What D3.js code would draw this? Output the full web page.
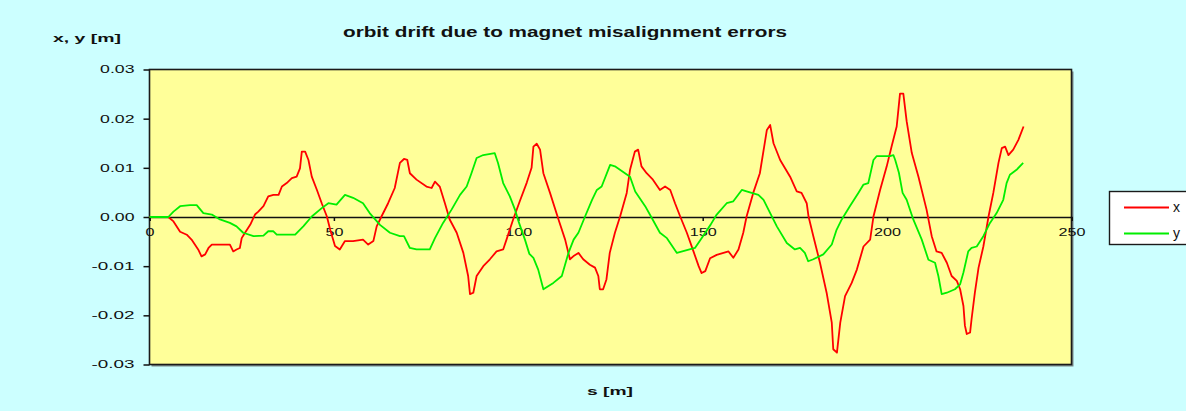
<!DOCTYPE html>
<html>
<head>
<meta charset="utf-8">
<script src="https://cdn.jsdelivr.net/npm/d3@7"></script>
<style>
  html, body { margin: 0; padding: 0; background: #ccffff; }
  svg { display: block; }
  text { font-family: "Liberation Sans", Arial, sans-serif; fill: #111; }
</style>
</head>
<body>
<svg id="chart" width="1186" height="411"></svg>
<script>
// Horizontal orbit offset x(s) [m]
const sX = [0,5.1,6.5,8.3,10.1,11.4,12.3,13.2,14.1,15.1,16,16.9,19.1,21.8,22.7,23.6,24.5,25,25.9,27.3,28.6,29.5,30.9,32.2,33.6,35,35.9,37.2,38.6,39.9,40.8,41.3,42.2,43.1,44,45.4,46.7,48.1,49,50.3,51.6,53,55.2,57.9,59.3,60.7,61.6,62.9,64.7,66.5,67.9,69,69.9,70.6,72.4,75.1,76.5,77.4,78.7,80.1,81.4,83.3,85.1,86.4,86.9,87.8,88.7,90.5,92.3,94.1,95.9,96.8,98.6,100.4,102.3,103.6,104.1,105,105.9,106.8,108.6,110.9,112.7,114,114.9,116.3,117.6,119.4,120.8,121.7,122.1,123,123.9,124.8,126.2,127.6,129.4,130.3,131.6,132.5,133.4,134.8,136.5,138.4,139.8,141.2,142.5,143.9,145.7,147.5,148.9,149.7,150.7,152,153.8,157,158.3,159.7,161,161.9,163.7,165.5,167.4,168.3,169.2,171,173.7,175.5,176.8,178.2,178.7,180,181.8,183.6,185,185.4,186.4,187.3,188.6,190.4,191.8,193.6,195.4,196.3,198.1,199.9,201.2,202.6,203.5,204.4,205.3,206.7,208.5,210.7,212.1,213.4,214.8,216.2,217.5,218.9,219.8,220.7,221.1,221.6,222.5,222.9,223.8,224.8,226.1,227.5,228.8,230.2,231.1,232,232.9,234.2,235.6,237];
const xOrbit = [0,0,-0.0009,-0.003,-0.0036,-0.0046,-0.0056,-0.0066,-0.008,-0.0076,-0.0063,-0.0056,-0.0056,-0.0056,-0.007,-0.0066,-0.0063,-0.0043,-0.0032,-0.0016,0.0005,0.0011,0.0022,0.0042,0.0045,0.0045,0.0062,0.0069,0.0079,0.0082,0.0099,0.0133,0.0133,0.0116,0.0082,0.0055,0.0028,0.0001,-0.0026,-0.0059,-0.0066,-0.0049,-0.0049,-0.0046,-0.0056,-0.0049,-0.0019,0.0001,0.0028,0.0059,0.011,0.0118,0.0116,0.0089,0.0076,0.0062,0.0059,0.0072,0.0062,0.0028,-0.0005,-0.0032,-0.0073,-0.012,-0.0157,-0.0154,-0.012,-0.01,-0.0086,-0.007,-0.0066,-0.0046,-0.0005,0.0032,0.007,0.01,0.0143,0.0149,0.0137,0.0089,0.0049,-0.0005,-0.0046,-0.0086,-0.008,-0.0073,-0.0086,-0.0097,-0.0103,-0.012,-0.0147,-0.0147,-0.0127,-0.0073,-0.0032,0.0001,0.0049,0.0096,0.0133,0.0137,0.0103,0.0089,0.0076,0.0055,0.0062,0.0055,0.0028,0.0001,-0.0032,-0.007,-0.01,-0.0114,-0.011,-0.0084,-0.0077,-0.007,-0.0083,-0.0066,-0.0032,0.0001,0.0049,0.0089,0.0177,0.0187,0.015,0.0116,0.0082,0.0052,0.0049,0.0028,0.0001,-0.0039,-0.0093,-0.0154,-0.0215,-0.0269,-0.0276,-0.0215,-0.0161,-0.0134,-0.0107,-0.006,-0.0046,0.0001,0.0055,0.0103,0.0143,0.0184,0.0251,0.0251,0.0195,0.013,0.0082,0.0015,-0.0039,-0.007,-0.0073,-0.0093,-0.012,-0.013,-0.0147,-0.0181,-0.0221,-0.0238,-0.0235,-0.0208,-0.0154,-0.0103,-0.006,0.0001,0.0049,0.011,0.014,0.0143,0.0126,0.0137,0.0157,0.0184];

// Vertical orbit offset y(s) [m]
const sY = [0,5.1,6.5,8.3,11,12.8,14.6,16.9,19.1,21.8,23.6,25.4,28.2,30.9,32.2,33.6,34.5,39.5,41.7,44,46.7,48.5,50.7,53,55.2,57.9,59.7,62.5,65.2,67.9,69,70.6,72.4,76,77.4,79.6,81.9,84.2,86,87.3,88.7,90.5,93.6,94.5,95.9,97.7,99.1,100.2,101.8,103,104.1,105.4,106.8,109.5,111.8,113.6,115,116.3,118.1,120,121.3,122.6,124.9,126.2,130.3,131.7,134.4,136.2,138.4,140.3,143,147.9,149.7,152.2,153.8,156.5,158.3,160.6,161.9,165.1,166.5,168.3,170.1,172.8,175,176.4,177.7,178.6,180,182.7,185,186.3,187.7,189.9,192.2,193.6,194.9,196.3,197.2,200.8,201.7,202.2,203.2,204.2,205.3,207.1,209.4,211.2,213,213.9,214.8,216.2,218.4,219.8,220.7,222,222.9,224.3,226.1,227.9,229.7,231.5,232.4,233.3,235.1,236.9];
const yOrbit = [0,0,0.0011,0.0022,0.0024,0.0024,0.0008,0.0005,-0.0005,-0.0012,-0.0019,-0.0032,-0.0039,-0.0038,-0.0029,-0.0029,-0.0036,-0.0036,-0.0019,0.0001,0.0018,0.0028,0.0025,0.0045,0.0039,0.0028,0.0008,-0.0016,-0.0032,-0.0039,-0.0039,-0.0063,-0.0066,-0.0066,-0.0043,-0.0012,0.0015,0.0045,0.0062,0.0089,0.012,0.0126,0.013,0.011,0.0069,0.0042,0.0015,-0.0012,-0.0046,-0.0075,-0.0083,-0.0107,-0.0147,-0.0134,-0.012,-0.0073,-0.0046,-0.0032,0.0001,0.0035,0.0055,0.0062,0.0106,0.0103,0.0082,0.0052,0.0022,-0.0002,-0.0032,-0.0043,-0.0073,-0.0063,-0.0043,-0.0015,0.0005,0.0028,0.0032,0.0055,0.0052,0.0045,0.0035,0.0008,-0.0019,-0.0053,-0.0066,-0.0063,-0.0073,-0.009,-0.0086,-0.0076,-0.0056,-0.0026,-0.0005,0.0022,0.0049,0.0066,0.0069,0.0116,0.0124,0.0124,0.0126,0.0116,0.009,0.0049,0.0035,-0.0005,-0.0046,-0.0087,-0.0093,-0.012,-0.0157,-0.0154,-0.0147,-0.0137,-0.0113,-0.007,-0.0063,-0.006,-0.0039,-0.0012,0.0008,0.0035,0.0069,0.0086,0.0096,0.011];

const sTicks = [0, 50, 100, 150, 200, 250];
const sTickLabels = ["0", "50", "100", "150", "200", "250"];
const vTicks = [-0.03, -0.02, -0.01, 0, 0.01, 0.02, 0.03];
const vTickLabels = ["-0.03", "-0.02", "-0.01", "0.00", "0.01", "0.02", "0.03"];
const seriesNames = ["x", "y"];
const seriesColors = ["#ff0000", "#00ee00"];

const svg = d3.select("#chart");
const plot = { left: 149.5, right: 1071.5, top: 69.5, bottom: 364.5 };

const x = d3.scaleLinear().domain([0, 250]).range([plot.left, plot.right]);
const y = d3.scaleLinear().domain([-0.03, 0.03]).range([plot.bottom, plot.top]);

// plot area with a drop shadow
svg.append("rect")
  .attr("x", plot.left + 2).attr("y", plot.top + 2)
  .attr("width", plot.right - plot.left).attr("height", plot.bottom - plot.top)
  .attr("fill", "#7a8a8a");
svg.append("rect")
  .attr("x", plot.left).attr("y", plot.top)
  .attr("width", plot.right - plot.left).attr("height", plot.bottom - plot.top)
  .attr("fill", "#ffff99").attr("stroke", "#1a1a1a").attr("stroke-width", 1.6);

// vertical axis on the left frame edge
const yAxis = svg.append("g")
  .attr("transform", `translate(${plot.left},0)`)
  .call(d3.axisLeft(y).tickValues(vTicks).tickSize(6).tickPadding(9)
    .tickFormat((d, i) => vTickLabels[i]));
yAxis.select(".domain").remove();
yAxis.selectAll(".tick line").attr("stroke", "#111").attr("stroke-width", 1.5);
yAxis.selectAll(".tick text")
  .attr("font-size", 10.5).attr("fill", "#111")
  .attr("textLength", (d, i) => vTickLabels[i].length * 8.6)
  .attr("lengthAdjust", "spacingAndGlyphs");

// horizontal axis along the zero line
const xAxis = svg.append("g")
  .attr("transform", `translate(0,${y(0)})`)
  .call(d3.axisBottom(x).tickValues(sTicks).tickSize(4).tickPadding(8)
    .tickFormat((d, i) => sTickLabels[i]));
xAxis.select(".domain").attr("stroke", "#111").attr("stroke-width", 1.6);
xAxis.selectAll(".tick line").attr("stroke", "#111").attr("stroke-width", 1.5);
xAxis.selectAll(".tick text")
  .attr("font-size", 10.5).attr("fill", "#111")
  .attr("textLength", (d, i) => sTickLabels[i].length * 9)
  .attr("lengthAdjust", "spacingAndGlyphs");

// orbit curves
const line = d3.line().x(d => x(d[0])).y(d => y(d[1]));
const curves = [d3.zip(sX, xOrbit), d3.zip(sY, yOrbit)];
curves.forEach((pts, i) => {
  svg.append("path")
    .datum(pts)
    .attr("d", line)
    .attr("fill", "none")
    .attr("stroke", seriesColors[i])
    .attr("stroke-width", 1.8)
    .attr("stroke-linejoin", "round");
});

// titles
svg.append("text")
  .attr("x", 565).attr("y", 36.5)
  .attr("text-anchor", "middle")
  .attr("font-size", 15.5).attr("font-weight", "bold")
  .attr("textLength", 444).attr("lengthAdjust", "spacingAndGlyphs")
  .text("orbit drift due to magnet misalignment errors");
svg.append("text")
  .attr("x", 53).attr("y", 41.5)
  .attr("font-size", 10.5).attr("font-weight", "bold")
  .attr("textLength", 68).attr("lengthAdjust", "spacingAndGlyphs")
  .text("x, y  [m]");
svg.append("text")
  .attr("x", 610).attr("y", 395)
  .attr("text-anchor", "middle")
  .attr("font-size", 10.5).attr("font-weight", "bold")
  .attr("textLength", 46).attr("lengthAdjust", "spacingAndGlyphs")
  .text("s [m]");

// legend
const legend = svg.append("g");
legend.append("rect")
  .attr("x", 1109.5).attr("y", 191.5)
  .attr("width", 100).attr("height", 53)
  .attr("fill", "#ffffff").attr("stroke", "#1a1a1a").attr("stroke-width", 1.4);
seriesNames.forEach((name, i) => {
  const ly = 207.5 + i * 26;
  legend.append("line")
    .attr("x1", 1124).attr("x2", 1169).attr("y1", ly).attr("y2", ly)
    .attr("stroke", seriesColors[i]).attr("stroke-width", 1.8);
  legend.append("text")
    .attr("x", 1173).attr("y", ly + 4.5)
    .attr("font-size", 14).attr("fill", "#222")
    .text(name);
});
</script>
</body>
</html>
